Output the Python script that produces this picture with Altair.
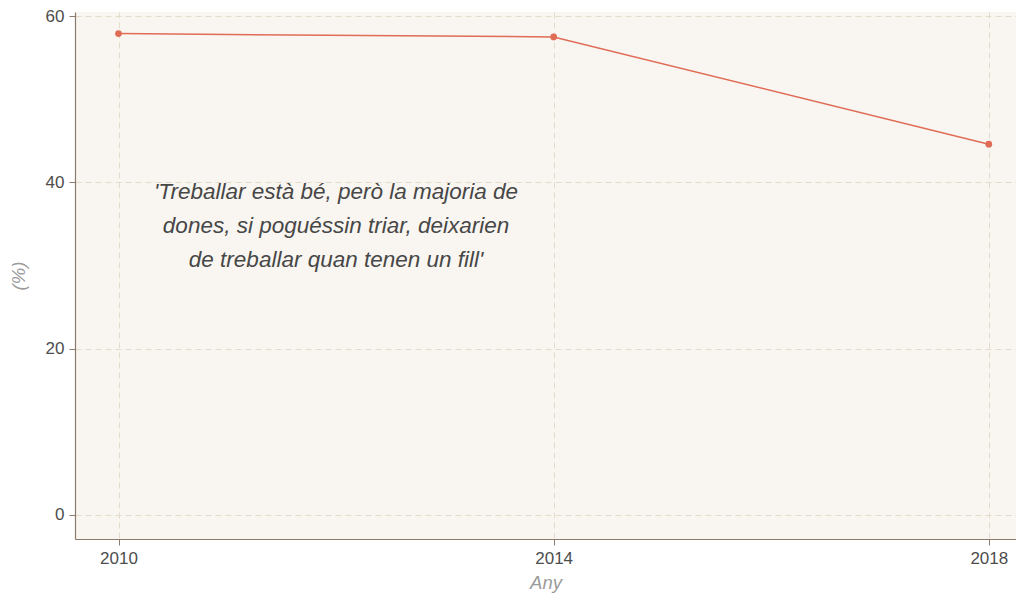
import altair as alt
import pandas as pd

years = [2010, 2014, 2018]
values = [57.9, 57.5, 44.6]
quote = "'Treballar està bé, però la majoria de\ndones, si poguéssin triar, deixarien\nde treballar quan tenen un fill'"
quote_x = [2012]
quote_y = [38.8]

df = pd.DataFrame({"year": years, "value": values})
tdf = pd.DataFrame({"x": quote_x, "y": quote_y, "t": [quote]})

xscale = alt.Scale(domain=[2009.6, 2018.25], nice=False, zero=False)
yscale = alt.Scale(domain=[-2.9, 60.5], nice=False, zero=False)

xaxis = alt.Axis(values=[2010, 2014, 2018], format="d", title="Any", titlePadding=7)
yaxis = alt.Axis(values=[0, 20, 40, 60], title="(%)", titlePadding=17)

base = alt.Chart(df)
line = base.mark_line(color="#e06c56", strokeWidth=1.5).encode(
    x=alt.X("year:Q", scale=xscale, axis=xaxis),
    y=alt.Y("value:Q", scale=yscale, axis=yaxis),
)
pts = base.mark_circle(color="#e06c56", size=45, opacity=1).encode(
    x=alt.X("year:Q", scale=xscale),
    y=alt.Y("value:Q", scale=yscale),
)
txt = alt.Chart(tdf).mark_text(
    lineBreak="\n", fontSize=22.5, fontStyle="italic", font="Liberation Sans",
    color="#474747", lineHeight=34, align="center", baseline="middle",
).encode(
    x=alt.X("x:Q", scale=xscale),
    y=alt.Y("y:Q", scale=yscale),
    text="t:N",
)

chart = alt.layer(line, pts, txt).properties(
    width=941, height=527,
    autosize=alt.AutoSizeParams(type="none"),
    padding={"left": 67, "top": 4, "right": 0, "bottom": 54},
).configure_view(
    fill="#f9f6f1", stroke=None,
).configure_axis(
    labelFont="Liberation Sans", labelFontSize=17, labelColor="#4d4d4d",
    titleFont="Liberation Sans", titleFontSize=18.5, titleFontStyle="italic",
    titleFontWeight="normal", titleColor="#9a9a9a",
    domainColor="#8b7b6b", domainWidth=1.2, tickColor="#8b7b6b", tickSize=6,
    gridColor="#e4dccb", gridDash=[6, 4], gridWidth=1, labelPadding=5,
)

chart.save("out.html", embed_options={"renderer": "svg", "actions": False})
